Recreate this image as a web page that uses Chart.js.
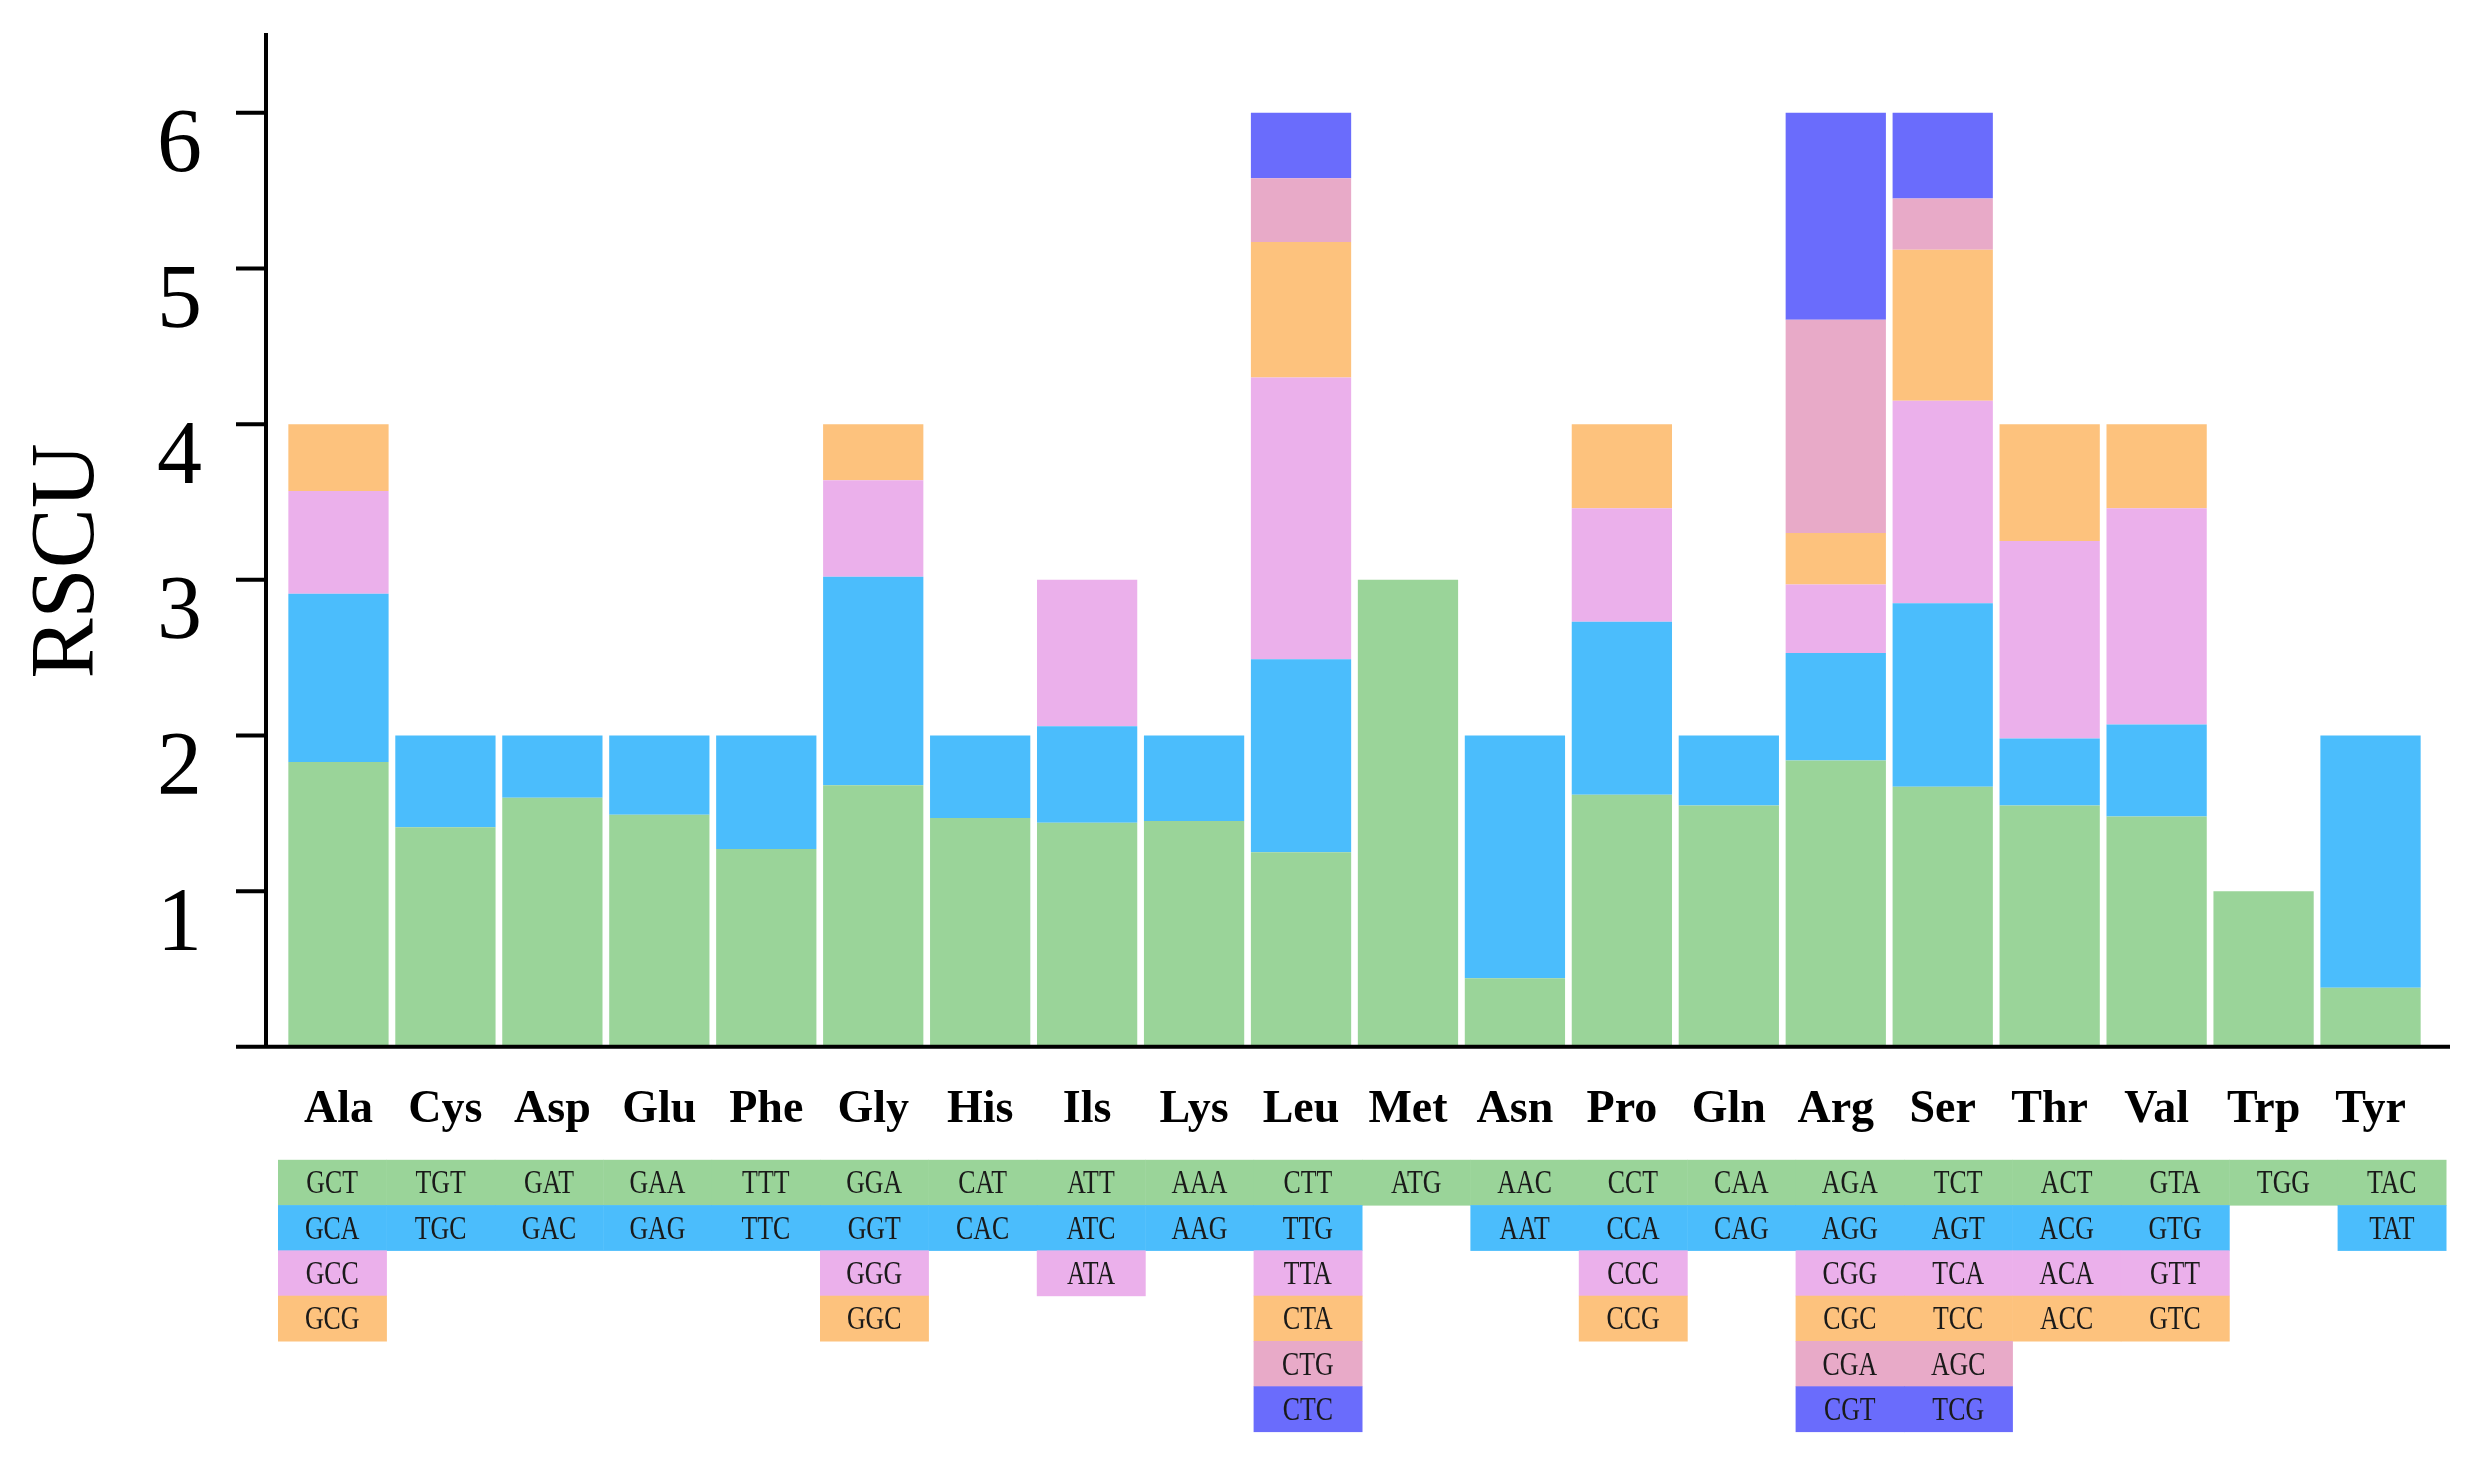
<!DOCTYPE html>
<html>
<head>
<meta charset="utf-8">
<script src="https://cdn.jsdelivr.net/npm/chart.js@4.4.1/dist/chart.umd.min.js"></script>
<style>
  body { margin: 0; background: #fff; }
  #wrap { width: 2477px; height: 1458px; }
</style>
</head>
<body>
<div id="wrap"><canvas id="rscuChart" width="2477" height="1458"></canvas></div>
<script>
// amino acids along the x axis
var aminoAcids = ["Ala", "Cys", "Asp", "Glu", "Phe", "Gly", "His", "Ils", "Lys", "Leu", "Met", "Asn", "Pro", "Gln", "Arg", "Ser", "Thr", "Val", "Trp", "Tyr"];

// RSCU per stacking level (level 1 = bottom)
var level1 = [1.83, 1.41, 1.60, 1.49, 1.27, 1.68, 1.47, 1.44, 1.45, 1.25, 3.00, 0.44, 1.62, 1.55, 1.84, 1.67, 1.55, 1.48, 1.00, 0.38];
var level2 = [1.08, 0.59, 0.40, 0.51, 0.73, 1.34, 0.53, 0.62, 0.55, 1.24, null, 1.56, 1.11, 0.45, 0.69, 1.18, 0.43, 0.59, null, 1.62];
var level3 = [0.66, null, null, null, null, 0.62, null, 0.94, null, 1.81, null, null, 0.73, null, 0.44, 1.30, 1.27, 1.39, null, null];
var level4 = [0.43, null, null, null, null, 0.36, null, null, null, 0.87, null, null, 0.54, null, 0.33, 0.97, 0.75, 0.54, null, null];
var level5 = [null, null, null, null, null, null, null, null, null, 0.41, null, null, null, null, 1.37, 0.33, null, null, null, null];
var level6 = [null, null, null, null, null, null, null, null, null, 0.42, null, null, null, null, 1.33, 0.55, null, null, null, null];

// codon of each level, same order
var codons1 = ["GCT", "TGT", "GAT", "GAA", "TTT", "GGA", "CAT", "ATT", "AAA", "CTT", "ATG", "AAC", "CCT", "CAA", "AGA", "TCT", "ACT", "GTA", "TGG", "TAC"];
var codons2 = ["GCA", "TGC", "GAC", "GAG", "TTC", "GGT", "CAC", "ATC", "AAG", "TTG", "", "AAT", "CCA", "CAG", "AGG", "AGT", "ACG", "GTG", "", "TAT"];
var codons3 = ["GCC", "", "", "", "", "GGG", "", "ATA", "", "TTA", "", "", "CCC", "", "CGG", "TCA", "ACA", "GTT", "", ""];
var codons4 = ["GCG", "", "", "", "", "GGC", "", "", "", "CTA", "", "", "CCG", "", "CGC", "TCC", "ACC", "GTC", "", ""];
var codons5 = ["", "", "", "", "", "", "", "", "", "CTG", "", "", "", "", "CGA", "AGC", "", "", "", ""];
var codons6 = ["", "", "", "", "", "", "", "", "", "CTC", "", "", "", "", "CGT", "TCG", "", "", "", ""];

var yTicks = [1, 2, 3, 4, 5, 6];
var levelColors = ["#9AD499", "#4BBDFC", "#EBB0EB", "#FDC27D", "#E8AAC8", "#6A6CFC"];

var levels = [level1, level2, level3, level4, level5, level6];
var codonRows = [codons1, codons2, codons3, codons4, codons5, codons6];

var datasets = levels.map(function (vals, i) {
  return {
    label: "level " + (i + 1),
    data: vals,
    backgroundColor: levelColors[i],
    borderWidth: 0,
    barPercentage: 0.9375,
    categoryPercentage: 1.0
  };
});

// no extra label padding, the layout is set by hand
function noPad(scale) {
  scale.paddingTop = 0;
  scale.paddingBottom = 0;
  scale.paddingLeft = 0;
  scale.paddingRight = 0;
}

// axes, title and codon table under the chart
var extras = {
  id: "extras",
  afterDraw: function (chart) {
    var ctx = chart.ctx;
    var area = chart.chartArea;
    var y = chart.scales.y;
    var axisX = area.left - 19;

    ctx.save();
    ctx.strokeStyle = "#000";
    ctx.lineWidth = 4;
    ctx.beginPath();
    ctx.moveTo(axisX, area.top - 2);
    ctx.lineTo(axisX, area.bottom);
    ctx.moveTo(area.left - 49, area.bottom);
    ctx.lineTo(area.right + 26, area.bottom);
    yTicks.forEach(function (t) {
      var py = y.getPixelForValue(t);
      ctx.moveTo(area.left - 49, py);
      ctx.lineTo(axisX, py);
    });
    ctx.stroke();

    // y title
    ctx.fillStyle = "#000";
    ctx.font = "90px 'Liberation Serif'";
    ctx.textAlign = "center";
    ctx.textBaseline = "middle";
    ctx.translate(69, (area.top + area.bottom) / 2 + 20);
    ctx.rotate(-Math.PI / 2);
    ctx.fillText("RSCU", 0, 0);
    ctx.restore();

    // codon table
    var n = aminoAcids.length;
    var tblLeft = area.left - 7;
    var colW = (area.right - area.left + 29) / n;
    var rowTop = area.bottom + 113;
    var rowH = 45.3;
    ctx.save();
    codonRows.forEach(function (row, r) {
      row.forEach(function (c, i) {
        if (!c) return;
        ctx.fillStyle = levelColors[r];
        ctx.fillRect(tblLeft + i * colW, rowTop + r * rowH, colW + 0.5, rowH + 0.5);
      });
    });
    ctx.fillStyle = "#1a1a1a";
    ctx.font = "34px 'Liberation Serif'";
    ctx.textAlign = "center";
    ctx.textBaseline = "middle";
    codonRows.forEach(function (row, r) {
      row.forEach(function (c, i) {
        if (!c) return;
        ctx.save();
        ctx.translate(tblLeft + (i + 0.5) * colW, rowTop + (r + 0.5) * rowH + 2);
        ctx.scale(0.76, 1);
        ctx.fillText(c, 0, 0);
        ctx.restore();
      });
    });
    ctx.restore();
  }
};

var ctx = document.getElementById("rscuChart");
var rscuChart = new Chart(ctx, {
  type: "bar",
  data: {
    labels: aminoAcids,
    datasets: datasets
  },
  options: {
    responsive: false,
    devicePixelRatio: 1,
    animation: false,
    layout: {
      padding: { left: 0, right: 53, top: 35, bottom: 292 }
    },
    plugins: {
      legend: { display: false },
      tooltip: { enabled: false }
    },
    scales: {
      x: {
        stacked: true,
        grid: { display: false },
        border: { display: false },
        afterFit: noPad,
        ticks: {
          color: "#000",
          padding: 28,
          maxRotation: 0,
          autoSkip: false,
          font: { family: "'Liberation Serif'", size: 46, weight: "bold" }
        }
      },
      y: {
        stacked: true,
        min: 0,
        max: 6.5,
        grid: { display: false },
        border: { display: false },
        afterBuildTicks: function (scale) {
          scale.ticks = yTicks.map(function (v) { return { value: v }; });
        },
        afterFit: function (scale) {
          scale.width = 285;
          noPad(scale);
        },
        ticks: {
          color: "#000",
          padding: 75,
          labelOffset: 35,
          font: { family: "'Liberation Serif'", size: 90 }
        }
      }
    }
  },
  plugins: [extras]
});
</script>
</body>
</html>
